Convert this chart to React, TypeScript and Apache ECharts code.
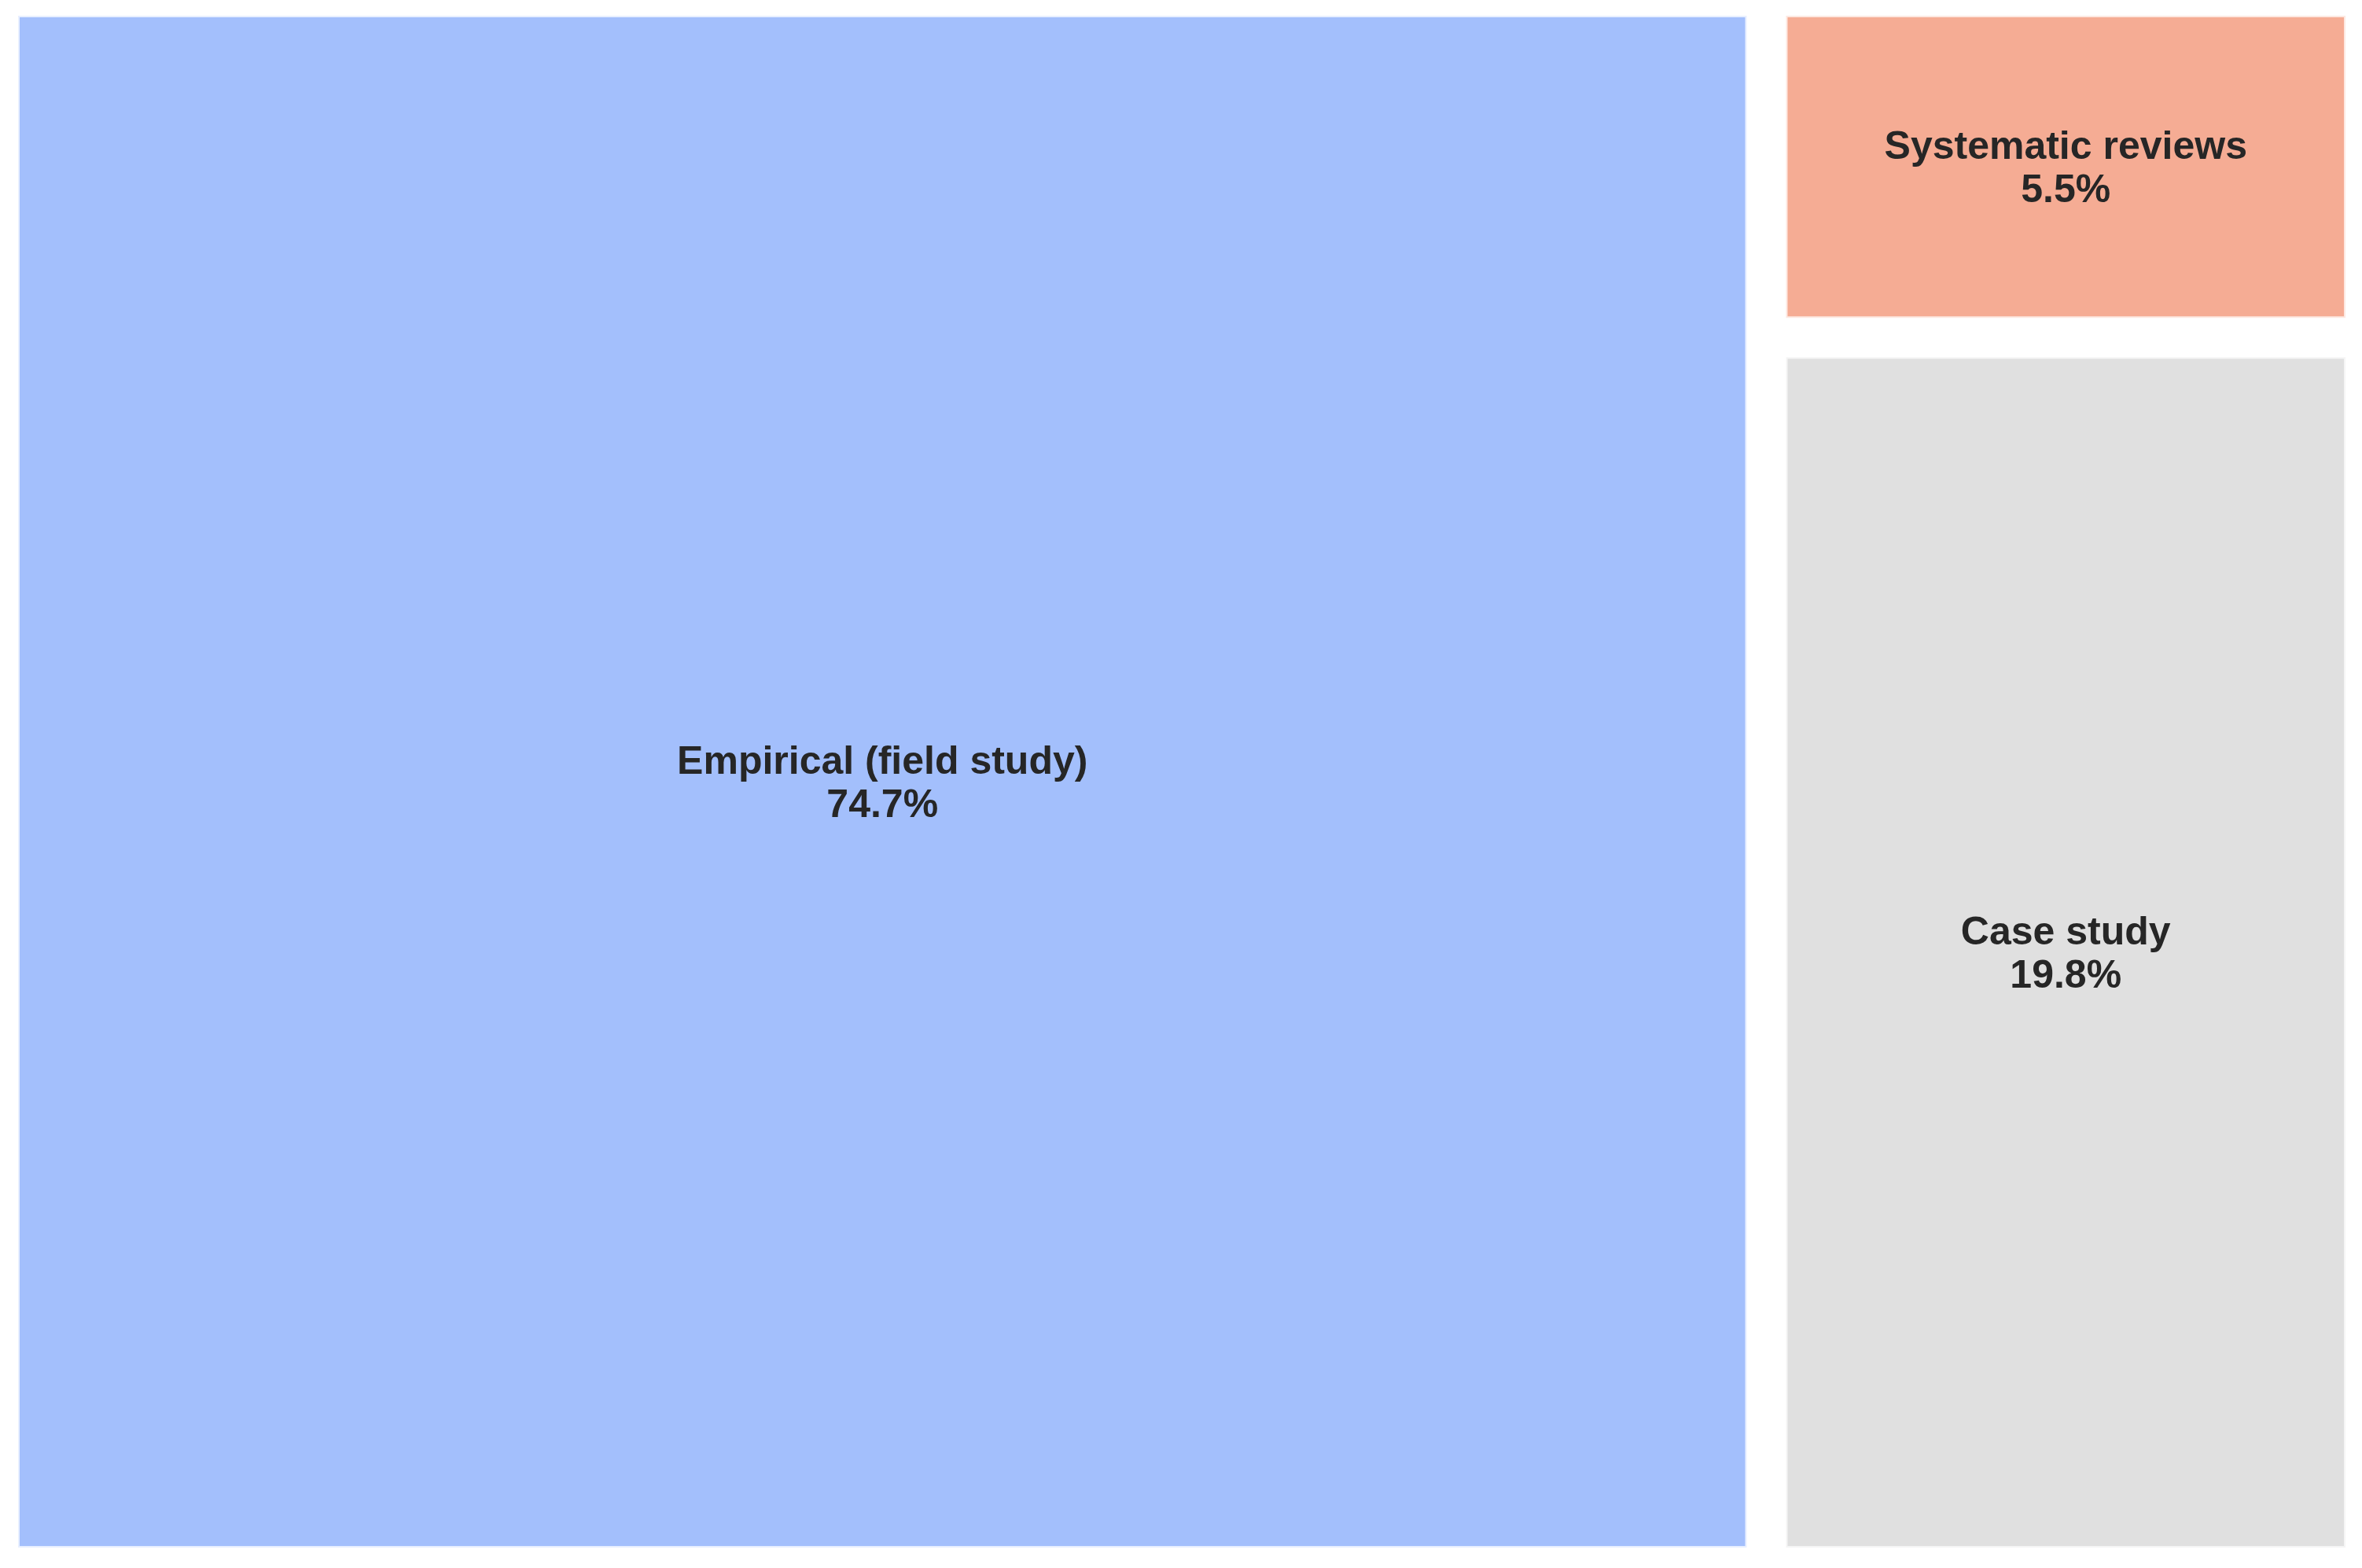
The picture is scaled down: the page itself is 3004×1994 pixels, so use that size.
import React, { useEffect, useRef } from "react";
import * as echarts from "echarts";

const categories = ["Empirical (field study)", "Systematic reviews", "Case study"];
const shares = [74.7, 5.5, 19.8];
const fillColors = ["#a3bffc", "#f5ac94", "#e0e0e0"];
const edgeColors = ["#e8efff", "#fde8e1", "#f5f5f5"];

export default function App() {
  const ref = useRef<HTMLDivElement>(null);
  useEffect(() => {
    if (!ref.current) return;
    const chart = echarts.init(ref.current, undefined, { renderer: "svg" });
    const data = categories.map((name, i) => ({
      name,
      value: shares[i],
      itemStyle: { color: fillColors[i], borderColor: edgeColors[i] },
    }));
    chart.setOption({
      animation: false,
      backgroundColor: "#ffffff",
      series: [
        {
          type: "treemap",
          left: 23,
          top: 20,
          width: 2960,
          height: 1948,
          sort: false,
          roam: false,
          nodeClick: false,
          squareRatio: 0.5 * (1 + Math.sqrt(5)),
          breadcrumb: { show: false },
          itemStyle: { gapWidth: 50, borderWidth: 0 },
          levels: [
            { itemStyle: { gapWidth: 50, borderWidth: 0 } },
            { itemStyle: { borderWidth: 2, gapWidth: 0 } },
          ],
          label: {
            show: true,
            position: "inside",
            align: "center",
            verticalAlign: "middle",
            fontFamily: "Liberation Sans, Arial, sans-serif",
            fontWeight: "bold",
            fontSize: 50,
            lineHeight: 55,
            color: "#262626",
            formatter: (p: any) => `${p.name}\n${Number(p.value).toFixed(1)}%`,
          },
          data,
        },
      ],
    });
    return () => chart.dispose();
  }, []);
  return (
    <div
      ref={ref}
      style={{ position: "fixed", left: 0, top: 0, width: 3004, height: 1994 }}
    />
  );
}
